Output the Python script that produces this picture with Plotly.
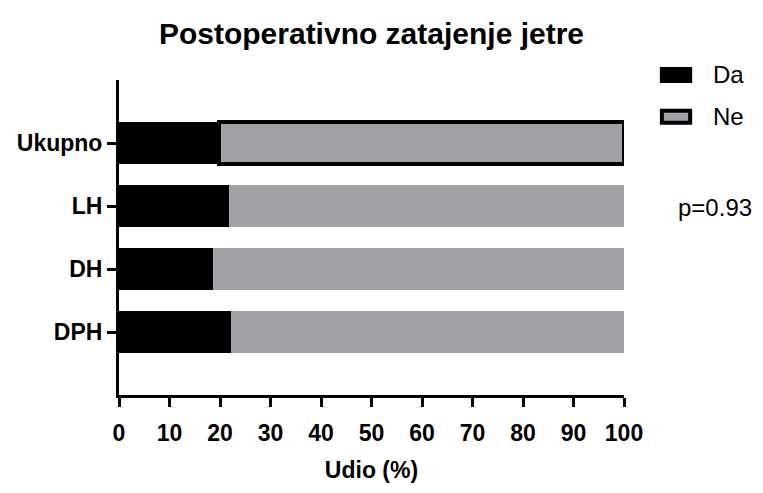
import plotly.graph_objects as go

groups = ["Ukupno", "LH", "DH", "DPH"]
da_pct = [19.8, 21.7, 18.7, 22.1]
ne_pct = [round(100 - v, 1) for v in da_pct]
legend_names = ["Da", "Ne"]
p_text = "p=0.93"

FONT = "Liberation Sans, Arial, sans-serif"
GRAY = "#a2a1a6"

fig = go.Figure()
fig.add_trace(go.Bar(
    name=legend_names[0], y=groups, x=da_pct, orientation="h",
    marker=dict(color="black", line=dict(color="black", width=0)),
    width=0.66, showlegend=False,
))
# the total row has its grey segment framed by a heavy black outline
fig.add_trace(go.Bar(
    name=legend_names[1], y=groups, x=ne_pct, orientation="h",
    marker=dict(color=GRAY, line=dict(color="black",
                                      width=[4 if g == "Ukupno" else 0 for g in groups])),
    width=0.66, showlegend=False,
))

# legend drawn as wide swatches beside the plot
key_rows = [(legend_names[0], "black", 1.016), (legend_names[1], GRAY, 0.883)]
shapes, annotations = [], []
for name, fill, yc in key_rows:
    shapes.append(dict(type="rect", xref="paper", yref="paper",
                       x0=1.075, x1=1.131, y0=yc - 0.019, y1=yc + 0.019,
                       fillcolor=fill, line=dict(color="black", width=4)))
    annotations.append(dict(text=name, x=1.172, y=yc, xref="paper", yref="paper",
                            xanchor="left", yanchor="middle", showarrow=False,
                            font=dict(size=24)))
annotations.append(dict(text=p_text, x=1.103, y=0.594, xref="paper", yref="paper",
                        xanchor="left", yanchor="middle", showarrow=False,
                        font=dict(size=24)))

fig.update_layout(
    barmode="stack",
    width=763, height=493,
    margin=dict(l=119, r=139, t=80, b=98),
    plot_bgcolor="white", paper_bgcolor="white",
    font=dict(family=FONT, color="black"),
    showlegend=False,
    title=dict(text="<b>Postoperativno zatajenje jetre</b>", x=0.5, xref="paper",
               y=0.932, yref="container", yanchor="middle", font=dict(size=30)),
    xaxis=dict(range=[0, 100], dtick=10, showgrid=False, zeroline=False,
               showline=True, linewidth=3, linecolor="black",
               ticks="outside", ticklen=9, tickwidth=3, tickcolor="black",
               tickfont=dict(size=23, family=FONT), ticklabelstandoff=6,
               tickprefix="<b>", ticksuffix="</b>",
               title=dict(text="<b>Udio (%)</b>", font=dict(size=23), standoff=18)),
    yaxis=dict(categoryorder="array", categoryarray=groups[::-1],
               range=[-1, 4], showgrid=False, zeroline=False,
               showline=True, linewidth=3, linecolor="black",
               ticks="outside", ticklen=9, tickwidth=3, tickcolor="black",
               tickfont=dict(size=23, family=FONT),
               tickprefix="<b>", ticksuffix="</b>"),
    shapes=shapes,
    annotations=annotations,
)

fig.write_html("out.html")
